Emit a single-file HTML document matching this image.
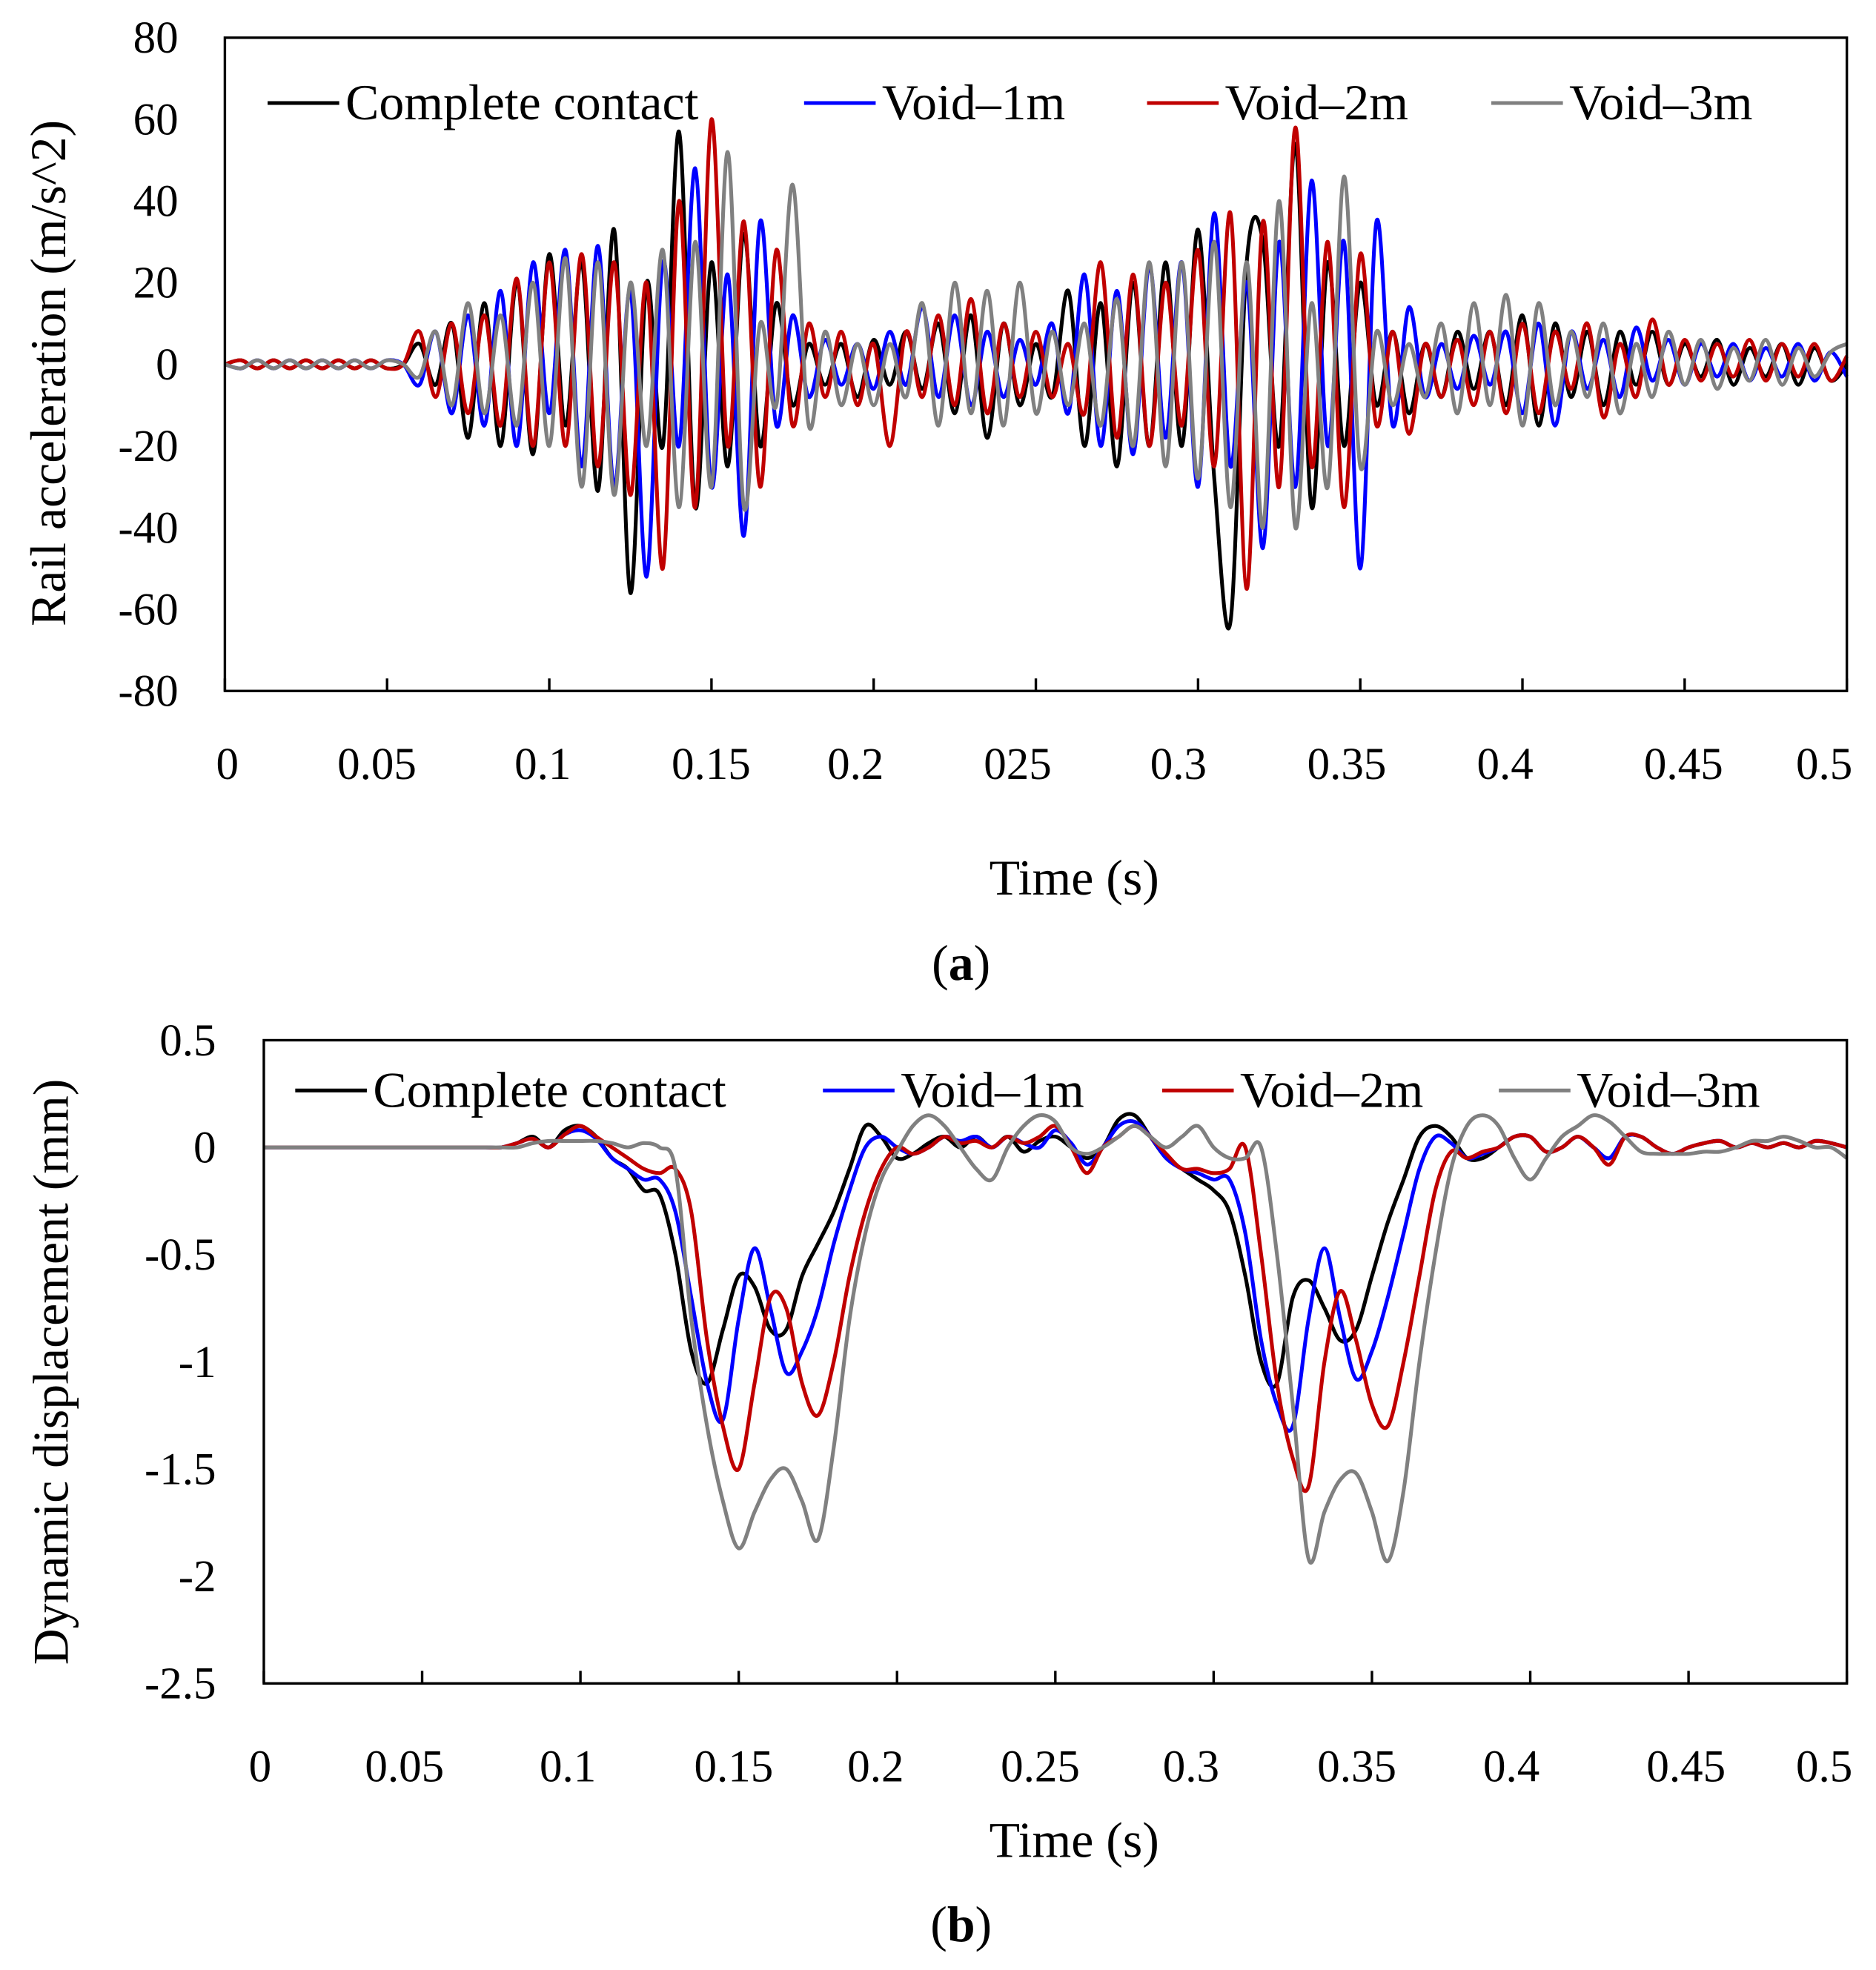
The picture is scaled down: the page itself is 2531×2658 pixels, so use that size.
<!DOCTYPE html>
<html><head><meta charset="utf-8">
<style>
html,body{margin:0;padding:0;background:#fff;}
svg{display:block;}
text{font-family:"Liberation Serif",serif;fill:#000;}
</style></head>
<body>
<svg id="fig" width="2531" height="2658" viewBox="0 0 1493.2 1568.1" xmlns="http://www.w3.org/2000/svg">
<g id="chartA"></g>
<g id="chartB"></g>
</svg>
<script>
const dt = 0.005;
const accBlack = [0,1,-1,1,-1,1,-1,1,-1,1, -1,0,5,-5,10,-18,15,-20,20,-22, 27,-15,25,-31,33,-56,20,-20,57,-35, 25,-25,32,-20,15,-10,5,-5,5,-8, 6,-5,8,-6,10,-12,12,-18,10,-10, 5,-8,18,-20,15,-25,20,-20,25,-20, 33,-28,-63,25,30,-20,54,-35,25,-20, 20,-10,8,-12,5,-8,8,-6,8,-10, 12,-15,10,-8,8,-10,8,-5,8,-5, 5,-3,6,-5,4,-3,5,-5,4,-4,0];
const accBlue = [0,-1,1,-1,1,-1,1,-1,1,-1, 1,0,-5,8,-12,12,-15,18,-20,25, -12,28,-25,29,-30,18,-52,25,-20,48, -30,22,-42,35,-15,12,-8,6,-5,5, -6,8,-5,14,-8,12,-10,8,-8,6, -5,10,-12,22,-20,18,-22,24,-18,25, -30,37,-25,20,-45,30,-30,45,-20,30, -50,35,-15,14,-8,5,-6,7,-5,8, -12,10,-15,8,-6,6,-8,9,-4,6, -5,5,-3,5,-4,4,-3,5,-4,3,-3];
const accRed = [0,1,-1,1,-1,1,-1,1,-1,1, -1,0,8,-8,10,-12,12,-15,21,-20, 25,-20,27,-25,25,-32,20,-50,40,-35, 60,-20,35,-30,28,-15,10,-8,8,-10, 5,-20,8,-8,12,-10,16,-12,10,-8, 8,-8,5,-12,25,-18,22,-20,20,-15, 28,-25,37,-55,35,-30,58,-25,30,-35, 27,-15,8,-17,5,-8,6,-10,8,-12, 10,-12,8,-6,10,-13,5,-8,11,-5, 6,-4,5,-3,6,-4,5,-3,5,-4,2];
const accGray = [0,-1,1,-1,1,-1,1,-1,1,-1, 1,0,-3,8,-10,15,-12,12,-15,20, -20,26,-30,25,-32,20,-20,28,-35,30, -30,52,-35,10,-10,44,-15,8,-10,5, -10,5,-8,15,-15,20,-12,18,-15,20, -12,8,-10,10,-15,16,-20,25,-25,25, -28,30,-35,25,-40,40,-40,15,-30,46, -25,8,-10,5,-8,10,-12,15,-10,17, -15,15,-10,8,-8,10,-12,5,-8,8, -5,6,-6,4,-4,6,-5,4,-3,3,5];
const dispBlack = [0,0,0,0,0,0,0,0,0,0,0,0,0,0,0,0, .02,.05,0,.08,.1, .05,-.05,-.1,-.2,-.22, -.5,-.95,-1.1,-.85,-.6, -.65,-.85,-.85,-.6,-.45, -.3,-.1,.1,.05,-.05, -.03,.02,.05,0,.05,0,.05,-.02,.03,.05, 0,-.05,0,.13,.15,.05,-.05,-.1,-.15,-.2, -.3,-.6,-1.0,-1.1,-.7,-.62,-.75,-.9,-.85,-.6, -.35,-.15,.05,.1,.05,-.05,-.05,0,.05,.05, -.02,0,.05,0,-.05,.05,.05,0,-.03,0,.02,.03,0,.02,0,.02,0,.03,.02,0];
const dispBlue = [0,0,0,0,0,0,0,0,0,0,0,0,0,0,0,0, .02,.04,0,.06,.08, .04,-.05,-.1,-.15,-.15, -.3,-.7,-1.1,-1.27,-.8, -.47,-.75,-1.05,-.95,-.75, -.45,-.2,0,.05,0, -.03,0,.05,.03,.05,0,.05,.02,0,.08, .02,-.08,0,.1,.12,.05,-.05,-.1,-.12,-.15, -.15,-.4,-.9,-1.2,-1.3,-.8,-.47,-.8,-1.08,-.95, -.7,-.4,-.1,.05,.02,-.05,-.03,0,.05,.05, -.02,0,.05,0,-.05,.05,.05,0,-.03,0,.02,.03,0,.02,0,.02,0,.03,.02,0];
const dispRed = [0,0,0,0,0,0,0,0,0,0,0,0,0,0,0,0, .02,.04,0,.06,.1, .05,0,-.05,-.1,-.12, -.1,-.3,-.9,-1.3,-1.5, -1.1,-.7,-.75,-1.1,-1.25, -1.0,-.6,-.3,-.1,0, -.03,0,.05,.02,.03,0,.05,.02,.05,.1, 0,-.12,0,.05,.1,.05,-.03,-.1,-.1,-.12, -.1,0,-.5,-1.1,-1.45,-1.58,-1.0,-.67,-.9,-1.2, -1.3,-1.0,-.6,-.2,-.02,-.05,-.02,0,.05,.05, -.02,0,.05,0,-.08,.05,.05,0,-.03,0,.02,.03,0,.02,0,.02,0,.03,.02,0];
const dispGray = [0,0,0,0,0,0,0,0,0,0,0,0,0,0,0,0, 0,.02,.03,.03,.03, .03,.02,0,.02,0, -.1,-.8,-1.3,-1.65,-1.87, -1.7,-1.55,-1.5,-1.65,-1.83, -1.4,-.8,-.4,-.15,-.02, .1,.15,.1,0,-.1,-.15,0,.1,.15,.12, 0,-.03,0,.05,.1,.05,0,.05,.1,0, -.05,-.05,0,-.5,-1.2,-1.92,-1.7,-1.55,-1.52,-1.7, -1.93,-1.6,-1.0,-.5,-.1,.1,.15,.1,-.05,-.15, -.05,.05,.1,.15,.12,.05,-.02,-.03,-.03,-.03, -.02,-.02,0,.03,.03,.05,.03,0,0,-.05];
const xTickLabelsA = ["0","0.05","0.1","0.15","0.2","025","0.3","0.35","0.4","0.45","0.5"];
const xTickLabelsB = ["0","0.05","0.1","0.15","0.2","0.25","0.3","0.35","0.4","0.45","0.5"];
const yTicksA = [80,60,40,20,0,-20,-40,-60,-80];
const yTicksB = [0.5,0,-0.5,-1,-1.5,-2,-2.5];
const seriesNames = ["Complete contact","Void\u20131m","Void\u20132m","Void\u20133m"];
const colors = ["#000000","#0000ff","#c00000","#808080"];

const NS="http://www.w3.org/2000/svg";
function mk(parent,tag,attrs,name,txt){
  const e=document.createElementNS(NS,tag);
  for(const k in attrs) e.setAttribute(k,attrs[k]);
  
  
  if(txt!==undefined) e.textContent=txt;
  parent.appendChild(e); return e;
}
function smoothPath(pts){
  let d="M"+pts[0][0].toFixed(2)+","+pts[0][1].toFixed(2);
  for(let i=0;i<pts.length-1;i++){
    const p0=pts[Math.max(0,i-1)],p1=pts[i],p2=pts[i+1],p3=pts[Math.min(pts.length-1,i+2)];
    const c1=[p1[0]+(p2[0]-p0[0])/6,p1[1]+(p2[1]-p0[1])/6];
    const c2=[p2[0]-(p3[0]-p1[0])/6,p2[1]-(p3[1]-p1[1])/6];
    d+="C"+c1[0].toFixed(2)+","+c1[1].toFixed(2)+" "+c2[0].toFixed(2)+","+c2[1].toFixed(2)+" "+p2[0].toFixed(2)+","+p2[1].toFixed(2);
  }
  return d;
}
function drawChart(g,cfg){
  const X=t=>cfg.x0+(t/0.5)*(cfg.x1-cfg.x0);
  const Y=v=>cfg.y0+(cfg.ymax-v)/(cfg.ymax-cfg.ymin)*(cfg.y1-cfg.y0);
  cfg.series.forEach((arr,si)=>{
    const pts=arr.map((v,i)=>[X(i*dt),Y(v)]);
    mk(g,'path',{d:smoothPath(pts),fill:'none',stroke:colors[si],'stroke-width':3,'stroke-linejoin':'round'},cfg.prefix+'-series-'+si);
  });
  mk(g,'rect',{x:cfg.x0,y:cfg.y0,width:cfg.x1-cfg.x0,height:cfg.y1-cfg.y0,fill:'none',stroke:'#000','stroke-width':2},cfg.prefix+'-plot-frame');
  for(let k=0;k<=10;k++){
    const x=X(k*0.05);
    mk(g,'line',{x1:x,x2:x,y1:cfg.y1,y2:cfg.y1-10,stroke:'#000','stroke-width':2},cfg.prefix+'-x-tick');
    mk(g,'text',{x:cfg.xlabX[k],y:cfg.xlabY,'font-size':36,'text-anchor':'middle'},cfg.prefix+'-x-tick-label',cfg.xLabels[k]);
  }
  cfg.yTicks.forEach(v=>{
    mk(g,'text',{x:cfg.ylabX,y:Y(v)+12,'font-size':36,'text-anchor':'end'},cfg.prefix+'-y-tick-label',String(v));
  });
  seriesNames.forEach((n,i)=>{
    const lx=cfg.legX[i];
    mk(g,'line',{x1:lx,x2:lx+57,y1:cfg.legY,y2:cfg.legY,stroke:colors[i],'stroke-width':3},cfg.prefix+'-legend-swatch');
    mk(g,'text',{x:lx+62,y:cfg.legY+13,'font-size':40},cfg.prefix+'-legend-label',n);
  });
}
drawChart(document.getElementById('chartA'),{
  prefix:'acc',x0:179,x1:1470,y0:30,y1:550,ymin:-80,ymax:80,
  series:[accBlack,accBlue,accRed,accGray],
  xLabels:xTickLabelsA,xlabX:[181,300,432,566,681,810,938,1072,1198,1340,1452],xlabY:620,
  yTicks:yTicksA,ylabX:142,legX:[213,640,913,1187],legY:82
});
drawChart(document.getElementById('chartB'),{
  prefix:'disp',x0:210,x1:1470,y0:828,y1:1340,ymin:-2.5,ymax:0.5,
  series:[dispBlack,dispBlue,dispRed,dispGray],
  xLabels:xTickLabelsB,xlabX:[207,322,452,584,697,828,948,1080,1203,1342,1452],xlabY:1418,
  yTicks:yTicksB,ylabX:172,legX:[235,655,925,1193],legY:868
});
const svg=document.getElementById('fig');
mk(svg,'text',{x:855,y:712,'font-size':40,'text-anchor':'middle'},'x-axis-title-a','Time (s)');
mk(svg,'text',{x:855,y:1478,'font-size':40,'text-anchor':'middle'},'x-axis-title-b','Time (s)');
mk(svg,'text',{x:0,y:0,'font-size':40,'text-anchor':'middle',transform:'translate(52,297) rotate(-90)'},'y-axis-title-a','Rail acceleration  (m/s^2)');
mk(svg,'text',{x:0,y:0,'font-size':40,'text-anchor':'middle',transform:'translate(54,1092) rotate(-90)'},'y-axis-title-b','Dynamic displacement  (mm)');
const ca=mk(svg,'text',{x:765,y:780,'font-size':40,'text-anchor':'middle'},'panel-label-a','(');
const ta=document.createElementNS(NS,'tspan');ta.setAttribute('font-weight','bold');ta.textContent='a';ca.appendChild(ta);ca.appendChild(document.createTextNode(')'));
const cb=mk(svg,'text',{x:765,y:1545,'font-size':40,'text-anchor':'middle'},'panel-label-b','(');
const tb=document.createElementNS(NS,'tspan');tb.setAttribute('font-weight','bold');tb.textContent='b';cb.appendChild(tb);cb.appendChild(document.createTextNode(')'));
</script>
</body></html>
